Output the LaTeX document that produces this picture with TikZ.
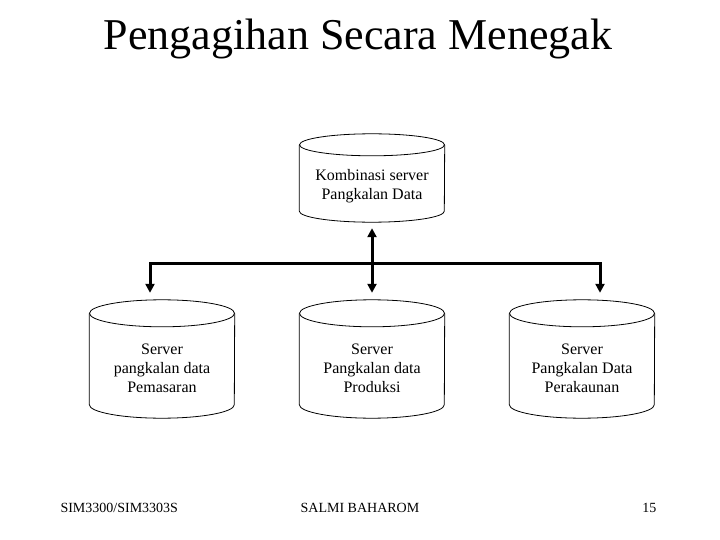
\documentclass[tikz,border=0pt]{standalone}
\usepackage{fontspec}
\setmainfont{Liberation Serif}
\usetikzlibrary{arrows.meta}

\tikzset{
  db/.style={minimum width=145pt, inner sep=0pt},
  dbline/.style={line width=0.8pt},
  dbtext/.style={align=center, font=\fontsize{16}{19}\selectfont},
  link/.style={line width=3pt, {Triangle[width=9pt,length=9pt]}-{Triangle[width=9pt,length=9pt]}},
  down/.style={line width=3pt, -{Triangle[width=9pt,length=9pt]}},
}

\begin{document}
\begin{tikzpicture}[x=1pt,y=-1pt]
\useasboundingbox (0,0) rectangle (720,540);

\node[anchor=base, font=\fontsize{44}{48}\selectfont] (title) at (358,50) {Pengagihan Secara Menegak};

% cylinders
\node[db, minimum height=88pt] (gabung) at (372,178) {};
\node[db, minimum height=118pt] (pemasaran) at (162,359) {};
\node[db, minimum height=118pt] (produksi) at (372,359) {};
\node[db, minimum height=118pt] (perakaunan) at (582,359) {};

\foreach \db/\r in {gabung/11, pemasaran/13.5, produksi/13.5, perakaunan/13.5} {
  \draw[dbline] ([yshift=-\r pt]\db.north) ellipse [x radius=72.5pt, y radius=\r pt];
  \draw[dbline] ([yshift=-\r pt]\db.north west) -- ([yshift=\r pt]\db.south west)
    arc [start angle=180, end angle=360, x radius=72.5pt, y radius=\r pt]
    -- ([yshift=-\r pt]\db.north east);
}

\node[dbtext] (tgabung) at ([yshift=-8pt]gabung.center) {Kombinasi server\\Pangkalan Data};
\node[dbtext] (tpemasaran) at ([yshift=-9pt]pemasaran.center) {Server\\pangkalan data\\Pemasaran};
\node[dbtext] (tproduksi) at ([yshift=-9pt]produksi.center) {Server\\Pangkalan data\\Produksi};
\node[dbtext] (tperakaunan) at ([yshift=-9pt]perakaunan.center) {Server\\Pangkalan Data\\Perakaunan};

% connectors
\coordinate (bus) at (372,263);
\draw[link] ([yshift=-6pt]gabung.south) -- ([yshift=7pt]produksi.north);
\draw[down] (bus) -| ([xshift=-12pt,yshift=7pt]pemasaran.north);
\draw[down] (bus) -| ([xshift=18pt,yshift=7pt]perakaunan.north);

% footer
\node[anchor=base west, font=\fontsize{14}{16}\selectfont] (kod) at (57,512) {SIM3300/SIM3303S};
\node[anchor=base, font=\fontsize{14}{16}\selectfont] (nama) at (360,512) {SALMI BAHAROM};
\node[anchor=base east, font=\fontsize{14}{16}\selectfont] (muka) at (660,512) {15};
\end{tikzpicture}
\end{document}
